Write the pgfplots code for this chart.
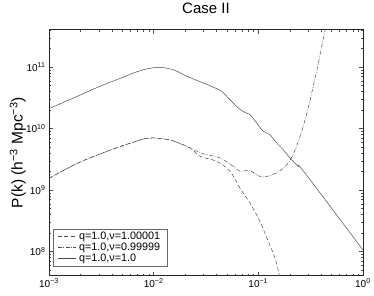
\documentclass[border=0pt]{standalone}
\usepackage{fontspec}
\setmainfont{Liberation Sans}
\usepackage{pgfplots}
\pgfplotsset{compat=1.18}
\begin{document}
\begin{tikzpicture}
\begin{loglogaxis}[
  scale only axis, width=314pt, height=246pt,
  xmin=1e-3, xmax=1, ymin=4.07e7, ymax=4.07e11,
  axis line style={black!85, line width=0.6pt},
  tick align=inside, major tick length=4pt, minor tick length=2pt,
  tick style={black!70, line width=0.4pt},
  xtick={1e-3,1e-2,1e-1,1},
  xticklabels={10\textsuperscript{−3},10\textsuperscript{−2},10\textsuperscript{−1},10\textsuperscript{0}},
  ytick={1e8,1e9,1e10,1e11},
  yticklabels={10\textsuperscript{8},10\textsuperscript{9},10\textsuperscript{10},10\textsuperscript{11}},
  minor xtick={2e-3,3e-3,4e-3,5e-3,6e-3,7e-3,8e-3,9e-3,2e-2,3e-2,4e-2,5e-2,6e-2,7e-2,8e-2,9e-2,2e-1,3e-1,4e-1,5e-1,6e-1,7e-1,8e-1,9e-1},
  minor ytick={5e7,6e7,7e7,8e7,9e7,2e8,3e8,4e8,5e8,6e8,7e8,8e8,9e8,2e9,3e9,4e9,5e9,6e9,7e9,8e9,9e9,2e10,3e10,4e10,5e10,6e10,7e10,8e10,9e10,2e11,3e11,4e11},
  ticklabel style={font=\fontsize{10}{11}\selectfont},
  title={Case II},
  title style={font=\fontsize{15}{17}\selectfont, at={(axis description cs:0.5,1.061)}, anchor=center},
  ylabel={P(k) (h\textsuperscript{−3} Mpc\textsuperscript{−3})},
  ylabel style={font=\fontsize{15.5}{17}\selectfont, at={(axis description cs:-0.099,0.5)}, anchor=center},
  legend style={at={(axis description cs:0.0137,0.038)}, anchor=south west, draw=black!60, line width=0.6pt,
    font=\fontsize{10.8}{12}\selectfont, row sep=0pt, inner xsep=4pt, inner ysep=2pt,
    nodes={inner xsep=3pt, inner ysep=1pt}},
  legend cell align=left,
  legend image code/.code={\draw[#1] (0pt,0pt) -- (18pt,0pt);},
  every axis plot/.append style={line width=0.5pt, black!70, smooth, tension=0.6},
]
% q=1.0, nu=1.00001 (dashed)
\addplot[dash pattern=on 4pt off 2.5pt] coordinates {
(1e-3,1.549e9) (1.905e-3,2.767e9) (3.981e-3,4.560e9) (6.310e-3,5.957e9) (8.260e-3,6.871e9) (9.863e-3,7.063e9)
(1.259e-2,6.761e9) (1.514e-2,6.383e9) (2.223e-2,4.853e9) (2.767e-2,3.548e9) (4.000e-2,2.938e9) (5.358e-2,2.023e9)
(6.668e-2,1.086e9) (8.318e-2,6.194e8) (1.035e-1,3.112e8) (1.245e-1,1.469e8) (1.442e-1,7.907e7)
(1.585e-1,4.227e7) (1.679e-1,2.399e7)
};
\addlegendentry{q=1.0,ν=1.00001}
% q=1.0, nu=0.99999 (dash-dot)
\addplot[dash pattern=on 4pt off 1.5pt on 0.8pt off 1.5pt] coordinates {
(1e-3,1.549e9) (1.905e-3,2.767e9) (3.981e-3,4.560e9) (6.310e-3,5.957e9) (8.260e-3,6.871e9) (9.863e-3,7.063e9)
(1.259e-2,6.761e9) (1.514e-2,6.383e9) (2.223e-2,4.853e9) (2.767e-2,4.027e9) (4.295e-2,3.342e9) (5.754e-2,2.438e9)
(6.668e-2,2.023e9) (8.318e-2,2.075e9) (1.074e-1,1.641e9) (1.496e-1,1.905e9) (1.932e-1,2.767e9)
(2.323e-1,5.152e9) (2.891e-1,1.690e10) (3.606e-1,8.511e10) (4.325e-1,3.802e11) (4.831e-1,7.943e11)
};
\addlegendentry{q=1.0,ν=0.99999}
% q=1.0, nu=1.0 (solid)
\addplot[solid] coordinates {
(1.000e-3,2.113e10) (1.778e-3,3.236e10) (3.069e-3,4.875e10) (5.012e-3,6.761e10) (6.310e-3,7.943e10)
(7.943e-3,9.016e10) (1.000e-2,9.772e10) (1.122e-2,9.886e10) (1.259e-2,9.772e10) (1.585e-2,8.913e10)
(1.995e-2,7.328e10) (2.477e-2,6.266e10) (3.090e-2,5.395e10)
(3.846e-2,4.592e10) (4.467e-2,4.046e10) (5.164e-2,3.155e10) (6.427e-2,2.173e10) (7.447e-2,1.841e10)
(8.318e-2,1.690e10) (9.638e-2,1.239e10) (1.114e-1,9.036e9) (1.291e-1,7.980e9) (1.496e-1,5.848e9)
(1.730e-1,4.560e9) (2.004e-1,3.342e9) (2.404e-1,2.438e9) (2.786e-1,1.905e9) (1,1.062e8)
};
\addlegendentry{q=1.0,ν=1.0}
\end{loglogaxis}
\path (current axis.south west) ++(-49pt,-20pt) coordinate (bl);
\path (current axis.north east) ++(11pt,25pt) coordinate (tr);
\path[use as bounding box] (bl) rectangle (tr);
\end{tikzpicture}
\end{document}
